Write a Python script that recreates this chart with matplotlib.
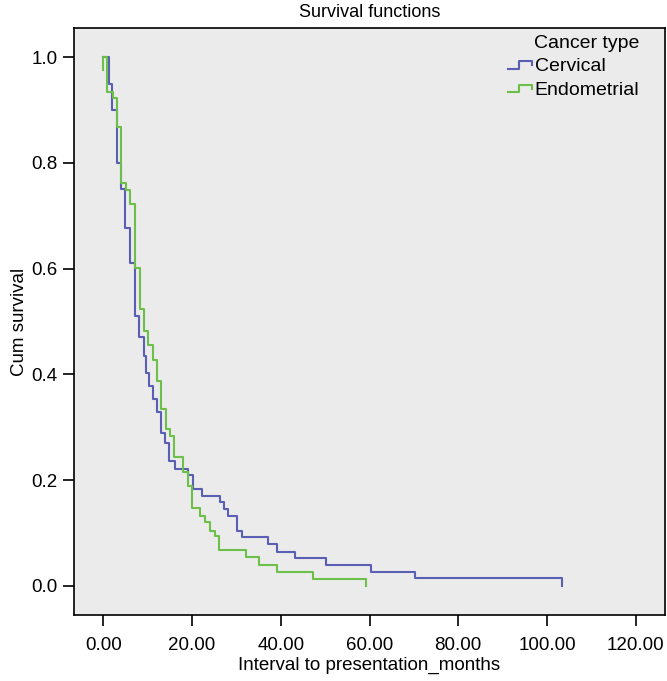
import matplotlib
matplotlib.use("Agg")
import matplotlib.pyplot as plt
from matplotlib.legend_handler import HandlerBase
from matplotlib.lines import Line2D

plt.rcParams["font.family"] = ["Liberation Sans", "DejaVu Sans"]

BG = "#ebebeb"
BLUE = "#5b5fb3"
GREEN = "#6cc04a"

# Kaplan-Meier steps: time (months) and survival after the drop
cervical_t = [0, 1.2, 1.9, 3.2, 4.1, 5.0, 6.0, 7.07, 8.0, 9.1, 9.7, 10.3, 11.1, 12.0,
              12.9, 13.8, 14.8, 16.1, 19.0, 20.2, 22.2, 26.3, 27.2, 28.1, 30.2, 31.2,
              37.2, 39.1, 43.3, 50.2, 60.3, 70.3, 103.4]
cervical_s = [1.0, 0.95, 0.90, 0.80, 0.75, 0.677, 0.611, 0.51, 0.47, 0.435, 0.403, 0.378,
              0.353, 0.328, 0.29, 0.271, 0.236, 0.221, 0.209, 0.183, 0.170, 0.158, 0.145,
              0.133, 0.104, 0.092, 0.079, 0.065, 0.053, 0.040, 0.027, 0.0145, 0.0]

endometrial_t = [0, 0, 0.9, 2.2, 3.2, 4.1, 5.2, 6.1, 7.07, 8.2, 9.2, 10.1, 11.1, 12.0,
                 13.1, 14.1, 15.0, 15.9, 18.0, 19.1, 19.9, 21.9, 22.9, 24.0, 25.1, 26.0,
                 32.1, 35.1, 39.2, 47.2, 59.2]
endometrial_s = [0.975, 1.0, 0.934, 0.922, 0.868, 0.762, 0.749, 0.722, 0.601, 0.523,
                 0.482, 0.455, 0.428, 0.387, 0.334, 0.296, 0.284, 0.243, 0.215, 0.189,
                 0.148, 0.133, 0.120, 0.104, 0.094, 0.067, 0.054, 0.040, 0.026, 0.013, 0.0]

x_ticks = [0, 20, 40, 60, 80, 100, 120]
y_ticks = [0.0, 0.2, 0.4, 0.6, 0.8, 1.0]


class StepHandler(HandlerBase):
    # little step glyph like the SPSS legend
    def create_artists(self, legend, orig_handle, xdescent, ydescent,
                       width, height, fontsize, trans):
        xs = [0, 0.45, 0.45, 1.0, 1.0]
        ys = [0.2, 0.2, 0.75, 0.75, 0.45]
        line = Line2D([x * width - xdescent for x in xs],
                      [y * height - ydescent for y in ys],
                      color=orig_handle.get_color(),
                      lw=orig_handle.get_linewidth(), transform=trans)
        return [line]


fig = plt.figure(figsize=(6.67, 6.81), dpi=100)
ax = fig.add_axes([74 / 667, 1 - 615 / 681, 591 / 667, 587 / 681])
ax.set_facecolor(BG)

l1, = ax.plot(cervical_t, cervical_s, drawstyle="steps-post", color=BLUE, lw=1.5,
              label="Cervical")
l2, = ax.plot(endometrial_t, endometrial_s, drawstyle="steps-post", color=GREEN, lw=1.5,
              label="Endometrial")

ax.set_xlim(-6.6, 126.6)
ax.set_ylim(-0.055, 1.055)
ax.set_xticks(x_ticks)
ax.set_xticklabels([f"{v:.2f}" for v in x_ticks])
ax.set_yticks(y_ticks)
ax.set_yticklabels([f"{v:.1f}" for v in y_ticks])
ax.tick_params(direction="out", length=8, width=1.2, labelsize=13.5)
ax.tick_params(axis="x", pad=8)
ax.tick_params(axis="y", pad=4)

for sp in ax.spines.values():
    sp.set_color("black")
    sp.set_linewidth(1.2)

ax.set_xlabel("Interval to presentation_months", fontsize=13.5, labelpad=2)
ax.set_ylabel("Cum survival", fontsize=13.5, labelpad=2)
ax.set_title("Survival functions", fontsize=13, pad=8)

leg = ax.legend(handles=[l1, l2], title="Cancer type", loc="upper right",
                bbox_to_anchor=(0.963, 0.995), frameon=False, fontsize=14,
                title_fontsize=14, handler_map={Line2D: StepHandler()},
                handlelength=1.2, handletextpad=0.15, labelspacing=0.3,
                borderaxespad=0, borderpad=0.2, alignment="right")

fig.savefig("out.png", dpi=100, facecolor="white")
